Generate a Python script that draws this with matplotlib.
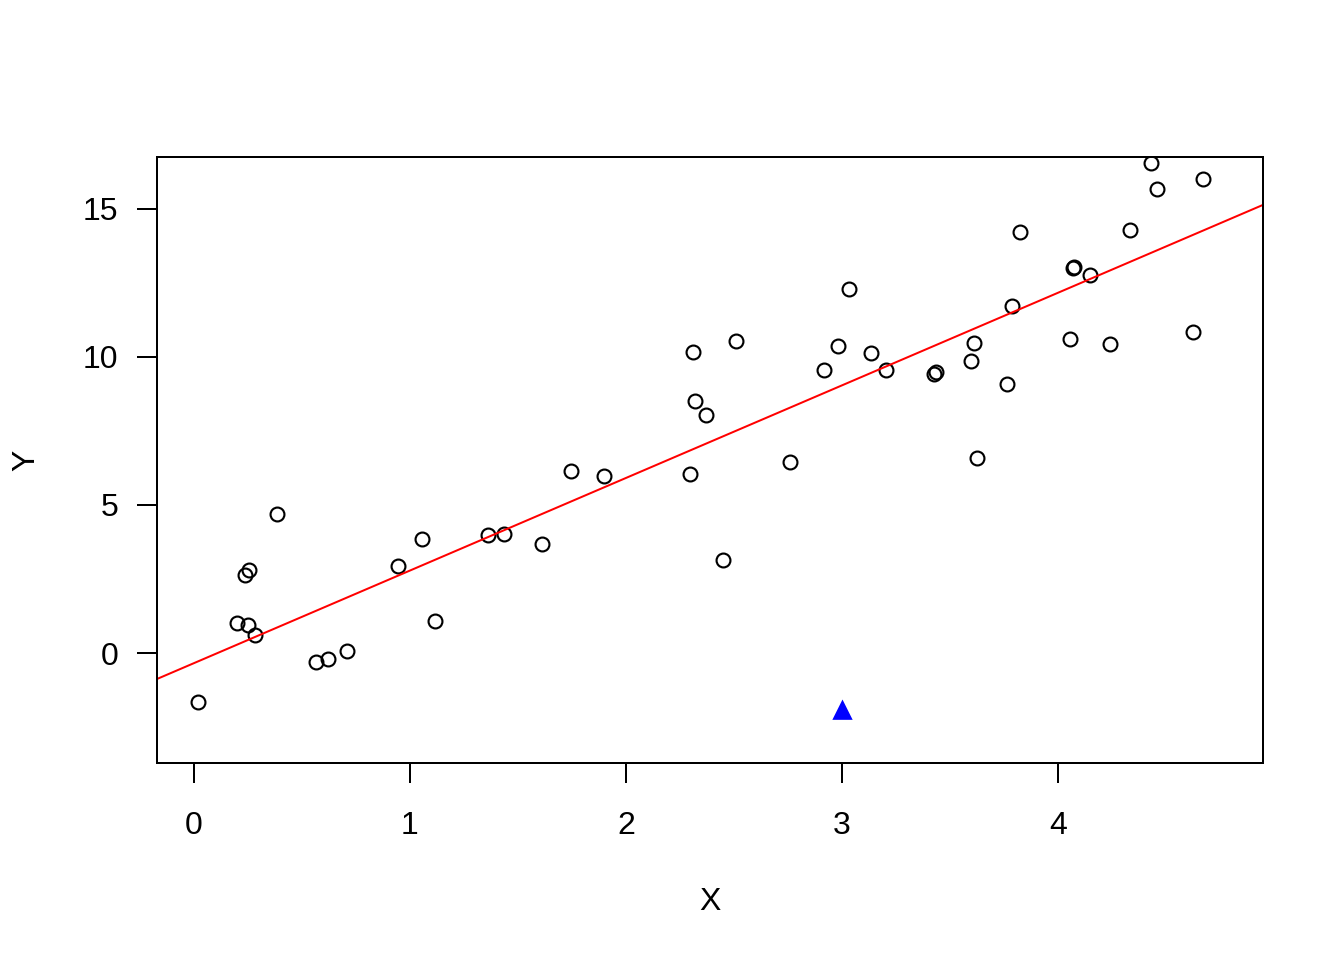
import numpy as np
import matplotlib.pyplot as plt

plt.rcParams['font.family'] = ['Liberation Sans', 'DejaVu Sans']

x = [0.018, 0.199, 0.236, 0.255, 0.250, 0.282, 0.384, 0.565, 0.620, 0.708,
     0.944, 1.056, 1.116, 1.361, 1.435, 1.611, 1.745, 1.898, 2.296, 2.310,
     2.319, 2.370, 2.449, 2.509, 2.759, 2.917, 2.981, 3.032, 3.134, 3.204,
     3.426, 3.435, 3.597, 3.611, 3.625, 3.764, 3.787, 3.824, 4.056, 4.069,
     4.074, 4.148, 4.241, 4.333, 4.431, 4.458, 4.625, 4.671]
y = [-1.655, 1.014, 2.635, 2.804, 0.946, 0.608, 4.696, -0.304, -0.203, 0.068,
     2.939, 3.851, 1.081, 3.986, 4.020, 3.682, 6.149, 5.980, 6.047, 10.169,
     8.514, 8.041, 3.142, 10.541, 6.453, 9.561, 10.372, 12.297, 10.135, 9.561,
     9.426, 9.493, 9.865, 10.473, 6.588, 9.088, 11.723, 14.223, 10.608, 13.007,
     13.041, 12.770, 10.439, 14.291, 16.554, 15.676, 10.845, 16.014]

# new point (blue triangle)
x_new = [3.0]
y_new = [-1.93]

# fitted line
intercept = -0.343
slope = 3.128

fig = plt.figure(figsize=(7, 5), dpi=192)
ax = fig.add_axes([0.1168, 0.2052, 0.8229, 0.6313])

ax.plot(x, y, 'o', mfc='none', mec='black', ms=5.2, mew=0.8)
ax.plot(x_new, y_new, '^', color='blue', ms=6)
ax.axline((0, intercept), slope=slope, color='red', lw=0.75)

ax.set_xlim(-0.171, 4.949)
ax.set_ylim(-3.716, 16.757)
ax.set_xticks([0, 1, 2, 3, 4])
ax.set_yticks([0, 5, 10, 15])
ax.tick_params(direction='out', length=7.5, width=0.75, labelsize=12)
ax.tick_params(axis='x', pad=10.5)
ax.tick_params(axis='y', pad=7)
for s in ax.spines.values():
    s.set_linewidth(0.75)

ax.set_xlabel('X', fontsize=12, va='center')
ax.set_ylabel('Y', fontsize=12, va='center')
ax.xaxis.set_label_coords(0.5, -0.229)
ax.yaxis.set_label_coords(-0.118, 0.5)

plt.savefig('out.png')
